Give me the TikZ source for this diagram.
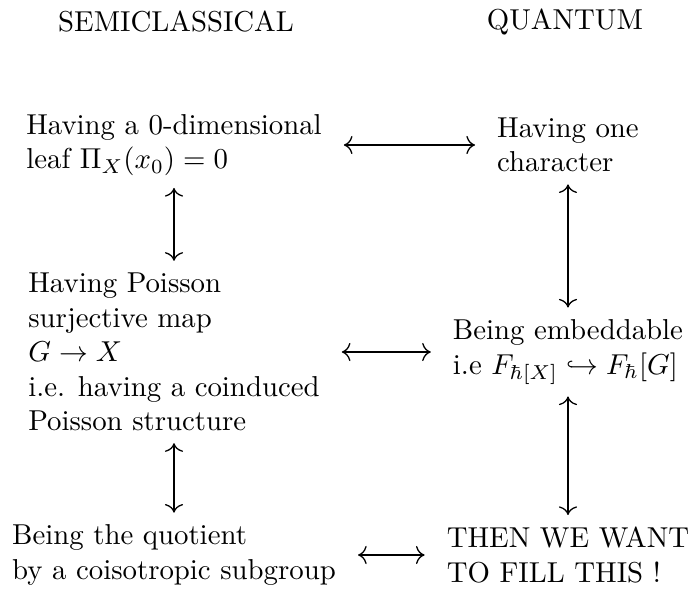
\documentclass[tikz,border=0pt]{standalone}
\usetikzlibrary{arrows.meta}
\tikzset{
  cqitem/.style={align=left, inner xsep=7.5pt, inner ysep=4pt},
  cqtitle/.style={inner sep=2pt},
  cqarrow/.style={{To[length=3pt]}-{To[length=3pt]}, line width=0.45pt},
}

\begin{document}
\begin{tikzpicture}[x=0.3472pt, y=-0.3472pt]
\useasboundingbox (0,0) rectangle (689,591);

% Column headers.
\node[cqtitle] (semi) at (176,22) {SEMICLASSICAL};
\node[cqtitle] (quant) at (565,22) {QUANTUM};

% Semiclassical side.
\node[cqitem] (leaf) at (174,145)
  {Having a 0-dimensional\\ leaf $\Pi_X(x_0)=0$};
\node[cqitem] (poisson) at (174,352)
  {Having Poisson\\ surjective map\\ $G\to X$\\
   i.e. having a coinduced\\ Poisson structure};
\node[cqitem] (quot) at (174,555)
  {Being the quotient\\ by a coisotropic subgroup};

% Quantum side.
\node[cqitem] (char) at (568,145) {Having one\\ character};
\node[cqitem] (embed) at (568,352)
  {Being embeddable\\ i.e $F_{\hbar[X]}\hookrightarrow F_\hbar[G]$};
\node[cqitem] (fill) at (568,555) {THEN WE WANT\\ TO FILL THIS !};

% Equivalences.
\draw[cqarrow] (leaf) -- (char);
\draw[cqarrow] (poisson) -- (embed);
\draw[cqarrow] (quot) -- (fill);
\draw[cqarrow] (leaf) -- (poisson);
\draw[cqarrow] (poisson) -- (quot);
\draw[cqarrow] (char) -- (embed);
\draw[cqarrow] (embed) -- (fill);

\end{tikzpicture}
\end{document}
